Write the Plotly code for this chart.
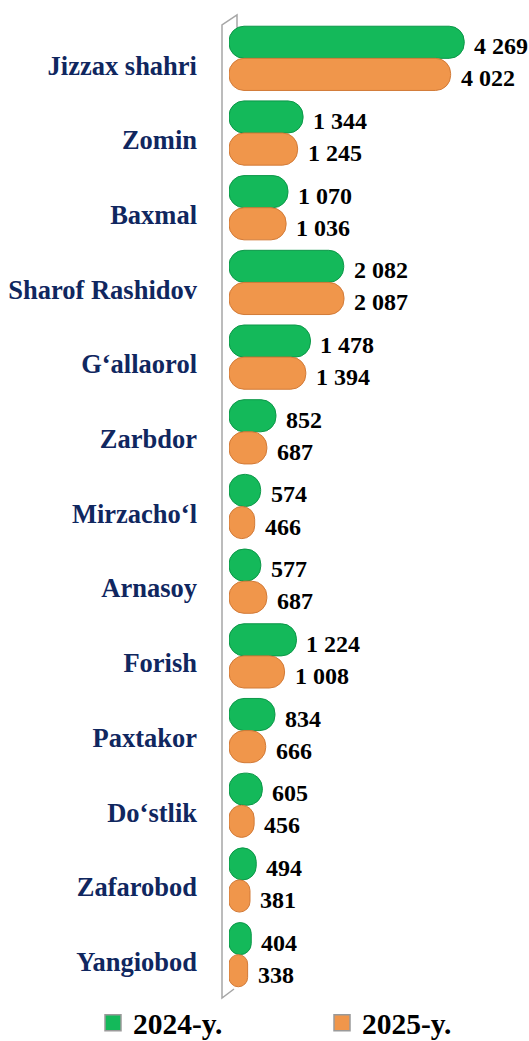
import plotly.graph_objects as go

categories = ["Jizzax shahri", "Zomin", "Baxmal", "Sharof Rashidov", "G‘allaorol",
              "Zarbdor", "Mirzacho‘l", "Arnasoy", "Forish", "Paxtakor",
              "Do‘stlik", "Zafarobod", "Yangiobod"]
values_2024 = [4269, 1344, 1070, 2082, 1478, 852, 574, 577, 1224, 834, 605, 494, 404]
values_2025 = [4022, 1245, 1036, 2087, 1394, 687, 466, 687, 1008, 666, 456, 381, 338]
series_names = ["2024-y.", "2025-y."]

GREEN = "#14b95a"
GREEN_EDGE = "#0c9748"
ORANGE = "#f0964b"
ORANGE_EDGE = "#d27a37"
NAVY = "#10275f"
FONT = "Liberation Serif, Times New Roman, serif"

# body margin is removed (post_script) so figure px = screen px
W, H = 529, 1049
ML, MT = 229, 21
PLOT_W = 300
MR = W - ML - PLOT_W
MB = H - 992
PX_PER_UNIT = 0.0551
x_max = PLOT_W / PX_PER_UNIT

fig = go.Figure()
for k, (name, vals, col, edge) in enumerate([
        (series_names[0], values_2024, GREEN, GREEN_EDGE),
        (series_names[1], values_2025, ORANGE, ORANGE_EDGE)]):
    fig.add_trace(go.Bar(
        y=categories, x=vals, base=[0] * len(vals), orientation="h", name=name,
        marker=dict(color=col, line=dict(color=edge, width=1), cornerradius=15),
        showlegend=False, hoverinfo="skip",
    ))
    # legend entries
    fig.add_trace(go.Scatter(
        x=[None], y=[None], mode="markers", name=name,
        legend="legend" if k == 0 else "legend2",
        marker=dict(symbol="square", size=16, color=col, line=dict(color="#9a9a9a", width=1.5)),
    ))

def fmt(v):
    return f"{v:,}".replace(",", " ")

annotations = []
for i, (a, b) in enumerate(zip(values_2024, values_2025)):
    for v, off in [(a, -0.215), (b, 0.215)]:
        annotations.append(dict(
            x=v, y=i + off, xref="x", yref="y", text=fmt(v), showarrow=False,
            xanchor="left", yanchor="middle", xshift=8, yshift=-4,
            font=dict(family=FONT, size=24, color="#000000", weight="bold"),
        ))

# 3D wall outline of the category axis (screen px -> paper)
ph = H - MT - MB
def px(s):
    return (s - ML) / PLOT_W
def py(s):
    return (H - MB - s) / ph
wall = (f"M {px(237)},{py(30)} L {px(237)},{py(15)} L {px(222)},{py(25)} "
        f"L {px(222)},{py(998)} L {px(234)},{py(989)}")

legend_common = dict(orientation="h", xref="container", yref="container",
                     xanchor="left", yanchor="bottom", y=0, itemwidth=30,
                     font=dict(family=FONT, size=29.5, color="#000000", weight="bold"),
                     bgcolor="rgba(0,0,0,0)", borderwidth=0)

fig.update_layout(
    width=W, height=H,
    margin=dict(l=ML, r=MR, t=MT, b=MB, autoexpand=False),
    paper_bgcolor="white", plot_bgcolor="white",
    barmode="group", bargap=0.14, bargroupgap=0,
    xaxis=dict(range=[0, x_max], visible=False, fixedrange=True),
    yaxis=dict(autorange="reversed", showgrid=False, zeroline=False, showline=False,
               automargin=False,
               ticks="", ticklabelstandoff=31, ticklabelshift=-7,
               tickfont=dict(family=FONT, size=26.5, color=NAVY, weight="bold")),
    annotations=annotations,
    shapes=[dict(type="path", path=wall, xref="paper", yref="paper",
                 line=dict(color="#a6a6a6", width=1.5), layer="below")],
    showlegend=True,
    legend=dict(legend_common, x=93 / W),
    legend2=dict(legend_common, x=322 / W),
)

fig.write_html("out.html",
               config={"displayModeBar": False},
               post_script="document.body.style.margin='0';"
                           "document.body.style.overflow='hidden';"
                           "document.documentElement.style.overflow='hidden';")
